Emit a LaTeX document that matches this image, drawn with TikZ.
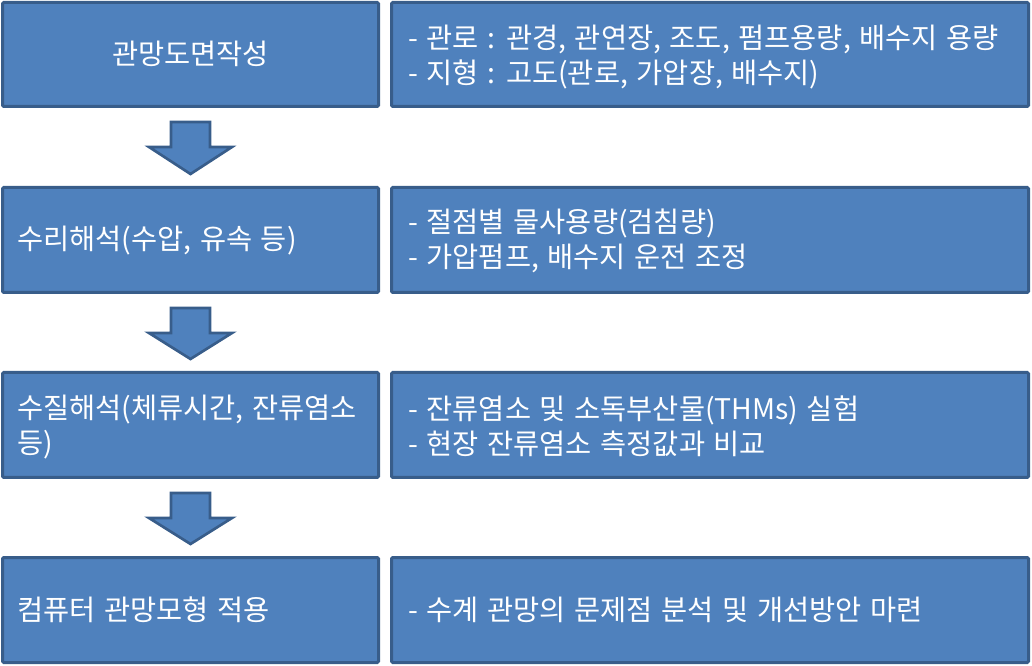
\documentclass[tikz,border=0pt]{standalone}
\usepackage{fontspec}
\setmainfont{Noto Sans CJK KR}[WordSpace={1.35,0,0}]
\usetikzlibrary{calc}
\definecolor{boxfill}{HTML}{4F81BD}
\definecolor{boxline}{HTML}{385D8A}
\tikzset{
  stagebox/.style={fill=boxfill, draw=boxline, line width=2.25pt, rounded corners=1pt},
  label/.style={text=white, font=\fontsize{21.3}{26.25}\selectfont, inner sep=0pt, align=left},
  blockarrow/.style={fill=boxfill, draw=boxline, line width=2pt, line join=miter}
}
\begin{document}
\begin{tikzpicture}[x=0.75pt, y=-0.75pt]
\useasboundingbox (0,0) rectangle (1032,666);
% left boxes
\draw[stagebox] (2.5,2.5) rectangle (378.5,106.5);
\draw[stagebox] (2.5,187.5) rectangle (378.5,292.5);
\draw[stagebox] (2.5,372.5) rectangle (378.5,477.5);
\draw[stagebox] (2.5,557.5) rectangle (378.5,662.5);
% right boxes
\draw[stagebox] (391.5,2.5) rectangle (1028.5,106.5);
\draw[stagebox] (391.5,187.5) rectangle (1028.5,292.5);
\draw[stagebox] (391.5,372.5) rectangle (1028.5,477.5);
\draw[stagebox] (391.5,557.5) rectangle (1028.5,662.5);
% named anchors for boxes
\coordinate (b1) at (190.5,106.5);
\coordinate (b2) at (190.5,292.5);
\coordinate (b3) at (190.5,477.5);
\coordinate (t2) at (190.5,187.5);
\coordinate (t3) at (190.5,372.5);
\coordinate (t4) at (190.5,557.5);
% arrows
\foreach \s/\t in {b1/t2,b2/t3,b3/t4}{
  \draw[blockarrow] ($(\s)+(-19.5,15.5)$) -- ($(\s)+(19.5,15.5)$) -- ($(\s)+(19.5,40.5)$)
     -- ($(\s)+(41.5,40.5)$) -- ($(\t)+(0,-13.5)$) -- ($(\s)+(-41.5,40.5)$)
     -- ($(\s)+(-19.5,40.5)$) -- cycle;
}
% left texts
\node[label, anchor=center] (l1) at (190.5,54) {관망도면작성};
\node[label, anchor=west] (l2) at (17,241) {수리해석(수압, 유속 등)};
\node[label, anchor=west] (l3) at (17,427) {수질해석(체류시간, 잔류염소\\등)};
\node[label, anchor=west] (l4) at (17,610) {컴퓨터 관망모형 적용};
% right texts
\node[label, anchor=west] (r1) at (408,57) {- 관로 : 관경, 관연장, 조도, 펌프용량, 배수지 용량\\- 지형 : 고도(관로, 가압장, 배수지)};
\node[label, anchor=west] (r2) at (408,241) {- 절점별 물사용량(검침량)\\- 가압펌프, 배수지 운전 조정};
\node[label, anchor=west] (r3) at (408,426) {- 잔류염소 및 소독부산물(THMs) 실험\\- 현장 잔류염소 측정값과 비교};
\node[label, anchor=west] (r4) at (408,610) {- 수계 관망의 문제점 분석 및 개선방안 마련};
\end{tikzpicture}
\end{document}
